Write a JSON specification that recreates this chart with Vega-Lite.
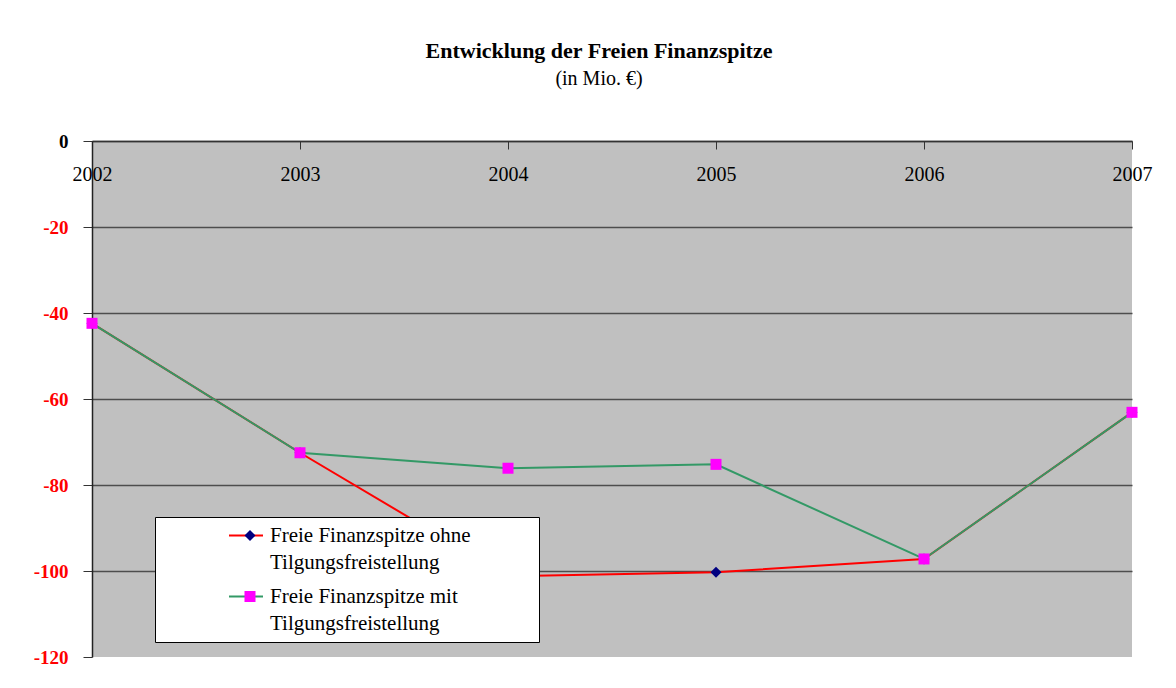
{
  "$schema": "https://vega.github.io/schema/vega-lite/v6.json",
  "width": 1040,
  "height": 516,
  "autosize": {"type": "none"},
  "padding": {"left": 92, "top": 141, "right": 44, "bottom": 31},
  "background": "white",
  "title": {
    "text": "Entwicklung der Freien Finanzspitze",
    "subtitle": "(in Mio. €)",
    "font": "Liberation Serif",
    "fontSize": 22,
    "fontWeight": "bold",
    "color": "black",
    "subtitleFont": "Liberation Serif",
    "subtitleFontSize": 20,
    "subtitleColor": "black",
    "anchor": "middle",
    "frame": "group",
    "offset": 42,
    "subtitlePadding": 6,
    "dx": -13
  },
  "config": {"view": {"fill": "#C0C0C0", "stroke": null}},
  "data": {
    "values": [
      {"jahr": "2002", "wert": -42.4, "reihe": "Freie Finanzspitze ohne Tilgungsfreistellung"},
      {"jahr": "2003", "wert": -72.5, "reihe": "Freie Finanzspitze ohne Tilgungsfreistellung"},
      {"jahr": "2004", "wert": -101.2, "reihe": "Freie Finanzspitze ohne Tilgungsfreistellung"},
      {"jahr": "2005", "wert": -100.3, "reihe": "Freie Finanzspitze ohne Tilgungsfreistellung"},
      {"jahr": "2006", "wert": -97.2, "reihe": "Freie Finanzspitze ohne Tilgungsfreistellung"},
      {"jahr": "2007", "wert": -63.1, "reihe": "Freie Finanzspitze ohne Tilgungsfreistellung"},
      {"jahr": "2002", "wert": -42.4, "reihe": "Freie Finanzspitze mit Tilgungsfreistellung"},
      {"jahr": "2003", "wert": -72.5, "reihe": "Freie Finanzspitze mit Tilgungsfreistellung"},
      {"jahr": "2004", "wert": -76.1, "reihe": "Freie Finanzspitze mit Tilgungsfreistellung"},
      {"jahr": "2005", "wert": -75.2, "reihe": "Freie Finanzspitze mit Tilgungsfreistellung"},
      {"jahr": "2006", "wert": -97.2, "reihe": "Freie Finanzspitze mit Tilgungsfreistellung"},
      {"jahr": "2007", "wert": -63.1, "reihe": "Freie Finanzspitze mit Tilgungsfreistellung"}
    ]
  },
  "encoding": {
    "x": {
      "field": "jahr",
      "type": "ordinal",
      "scale": {"type": "point", "padding": 0},
      "axis": {
        "orient": "bottom",
        "offset": -516,
        "title": null,
        "labelAngle": 0,
        "labelFont": "Liberation Serif",
        "labelFontSize": 20,
        "labelColor": "black",
        "tickSize": 8,
        "tickColor": "#333333",
        "domainColor": "#333333",
        "domainWidth": 1.5,
        "labelPadding": 15,
        "grid": false
      }
    },
    "y": {
      "field": "wert",
      "type": "quantitative",
      "scale": {"domain": [-120, 0], "nice": false},
      "axis": {
        "values": [0, -20, -40, -60, -80, -100, -120],
        "title": null,
        "labelExpr": "replace(datum.label, '−', '-')",
        "labelFont": "Liberation Serif",
        "labelFontSize": 19,
        "labelFontWeight": "bold",
        "labelColor": {"condition": {"test": "datum.value == 0", "value": "black"}, "value": "#FF0000"},
        "tickSize": 9,
        "tickColor": "#333333",
        "domainColor": "#222222",
        "domainWidth": 1.5,
        "labelPadding": 15,
        "grid": true,
        "gridColor": {"condition": {"test": "datum.value == -120", "value": "transparent"}, "value": "#4D4D4D"},
        "gridWidth": 1.5
      }
    }
  },
  "layer": [
    {
      "mark": {"type": "line", "strokeWidth": 2},
      "encoding": {
        "color": {
          "field": "reihe",
          "type": "nominal",
          "sort": ["Freie Finanzspitze ohne Tilgungsfreistellung", "Freie Finanzspitze mit Tilgungsfreistellung"],
          "scale": {"range": ["#FF0000", "#339966"]},
          "legend": {
            "orient": "none",
            "legendX": 63,
            "legendY": 376,
            "title": " ",
            "titleOrient": "right",
            "titlePadding": 60,
            "padding": 8,
            "fillColor": "white",
            "strokeColor": "black",
            "symbolType": "stroke",
            "symbolSize": 1156,
            "symbolStrokeWidth": 2,
            "symbolOffset": 65,
            "clipHeight": 21,
            "labelOffset": 6,
            "labelFont": "Liberation Serif",
            "labelFontSize": 21,
            "labelColor": "black",
            "labelLimit": 0,
            "rowPadding": 12,
            "labelExpr": "split(replace(datum.label, ' Tilgungs', '|Tilgungs'), '|')",
            "zindex": 1,
            "encode": {"labels": {"update": {"lineHeight": {"value": 27.5}}}}
          }
        }
      }
    },
    {
      "mark": {"type": "point", "filled": true, "opacity": 1, "strokeWidth": 0, "size": 121},
      "encoding": {
        "fill": {
          "field": "reihe",
          "type": "nominal",
          "scale": {
            "domain": ["Freie Finanzspitze ohne Tilgungsfreistellung", "Freie Finanzspitze mit Tilgungsfreistellung"],
            "range": ["#000080", "#FF00FF"]
          },
          "legend": {
            "orient": "none",
            "legendX": 63,
            "legendY": 376,
            "title": null,
            "padding": 8,
            "fillColor": null,
            "strokeColor": null,
            "symbolSize": 121,
            "symbolStrokeWidth": 0,
            "symbolOpacity": 1,
            "symbolOffset": 76.5,
            "clipHeight": 21,
            "labelOffset": 29,
            "labelFont": "Liberation Serif",
            "labelFontSize": 21,
            "labelLimit": 0,
            "rowPadding": 12,
            "labelExpr": "['', '']",
            "zindex": 2,
            "encode": {"labels": {"update": {"lineHeight": {"value": 27.5}}}}
          }
        },
        "shape": {
          "field": "reihe",
          "type": "nominal",
          "scale": {
            "domain": ["Freie Finanzspitze ohne Tilgungsfreistellung", "Freie Finanzspitze mit Tilgungsfreistellung"],
            "range": ["diamond", "square"]
          },
          "legend": {
            "orient": "none",
            "legendX": 63,
            "legendY": 376,
            "title": null,
            "padding": 8,
            "fillColor": null,
            "strokeColor": null,
            "symbolSize": 121,
            "symbolStrokeWidth": 0,
            "symbolOpacity": 1,
            "symbolOffset": 76.5,
            "clipHeight": 21,
            "labelOffset": 29,
            "labelFont": "Liberation Serif",
            "labelFontSize": 21,
            "labelLimit": 0,
            "rowPadding": 12,
            "labelExpr": "['', '']",
            "zindex": 2,
            "encode": {"labels": {"update": {"lineHeight": {"value": 27.5}}}}
          }
        }
      }
    }
  ]
}
